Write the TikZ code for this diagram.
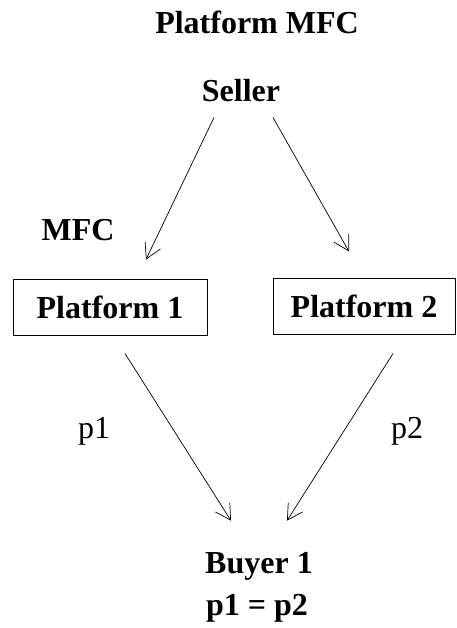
\documentclass[tikz,border=0pt]{standalone}
\usepackage{fontspec}
\setmainfont{Liberation Serif}
\usetikzlibrary{arrows.meta}
\begin{document}
\begin{tikzpicture}[x=1pt,y=-1pt,
	box/.style={draw,line width=1pt,minimum height=56pt,inner sep=0pt,font=\fontsize{32}{38}\selectfont\bfseries},
	bold/.style={inner sep=0pt,anchor=base,font=\fontsize{32}{38}\selectfont\bfseries},
	plain/.style={inner sep=0pt,anchor=base,font=\fontsize{32}{38}\selectfont},
	arr/.style={line width=0.7pt,-{Straight Barb[length=15pt,width=17pt]}}]
	\useasboundingbox (0,0) rectangle (456,628);

	\node[bold] (title) at (257,34) {Platform MFC};
	\node[bold] (seller) at (241,102) {Seller};
	\node[bold] (mfc) at (78,240) {MFC};
	\node[box,minimum width=194pt] (plat1) at (110,307) {Platform 1};
	\node[box,minimum width=182pt] (plat2) at (364,306) {Platform 2};
	\node[plain] (p1) at (94,438) {p1};
	\node[plain] (p2) at (407,438) {p2};
	\node[bold] (buyer) at (259,573) {Buyer 1};
	\node[bold] (equal) at (257,615) {p1 = p2};

	\draw[arr] ([shift={(-27,15)}]seller.south) -- ([shift={(36,-19)}]plat1.north);
	\draw[arr] ([shift={(32,15)}]seller.south) -- ([shift={(-15,-26)}]plat2.north);
	\draw[arr] ([shift={(15,18)}]plat1.south) -- ([shift={(-28,-31)}]buyer.north);
	\draw[arr] ([shift={(29,19)}]plat2.south) -- ([shift={(28,-31)}]buyer.north);
\end{tikzpicture}
\end{document}
